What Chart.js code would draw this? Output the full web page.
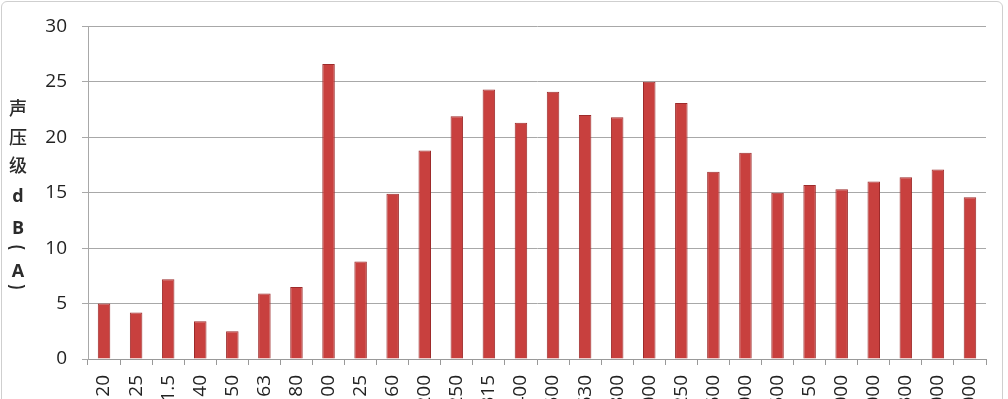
<!DOCTYPE html>
<html>
<head>
<meta charset="utf-8">
<script src="https://cdn.jsdelivr.net/npm/chart.js@4.4.0/dist/chart.umd.min.js"></script>
<style>
  html, body { margin: 0; padding: 0; background: #fff; overflow: hidden; width: 1008px; height: 399px; }
  #frame { position: absolute; left: 1px; top: 1px; width: 1002px; height: 430px; border: 1px solid #cfcfcf; border-radius: 6px; box-sizing: border-box; }
  #c { position: absolute; left: 0; top: 0; }
</style>
</head>
<body>
<div id="frame"></div>
<canvas id="c" width="1008" height="399"></canvas>
<script>
const categories = ["20","25","31.5","40","50","63","80","100","125","160","200","250","315","400","500","630","800","1000","1250","1600","2000","2500","3150","4000","5000","6300","8000","10000"];
const levels = [5.0,4.2,7.2,3.4,2.5,5.9,6.5,26.6,8.8,14.9,18.8,21.9,24.3,21.3,24.1,22.0,21.8,25.0,23.1,16.9,18.6,15.0,15.7,15.3,16.0,16.4,17.1,14.6];
const yTicks = [0,5,10,15,20,25,30];
const yTitleChars = ["声","压","级","d","B","(","A",")"];

const yTitlePlugin = {
  id: 'yTitleVertical',
  afterDraw(chart) {
    const ctx = chart.ctx;
    const ys = [108,137,165,197,229,247,272,287];
    ctx.save();
    ctx.fillStyle = '#2b2b2b';
    ctx.textAlign = 'center';
    ctx.textBaseline = 'middle';
    yTitleChars.forEach((ch, i) => {
      if (ch === '(' || ch === ')') {
        ctx.save();
        ctx.translate(17, ys[i]);
        ctx.rotate(Math.PI / 2);
        ctx.scale(0.75, 1);
        ctx.font = 'bold 19px "Liberation Sans"';
        ctx.fillText(ch, 0, 0);
        ctx.restore();
        return;
      }
      const latin = /[A-Za-z]/.test(ch);
      ctx.font = (latin ? 'bold 18px "Open Sans", "Noto Sans"' : '500 18px "Noto Sans CJK SC"');
      ctx.fillText(ch, 18, ys[i]);
    });
    ctx.restore();
  }
};

new Chart(document.getElementById('c'), {
  type: 'bar',
  data: {
    labels: categories,
    datasets: [{
      data: levels,
      backgroundColor: '#c8403e',
      borderColor: '#9d2b2b',
      borderWidth: 1,
      barPercentage: 0.39,
      categoryPercentage: 1.0
    }]
  },
  options: {
    responsive: false,
    animation: false,
    devicePixelRatio: 1,
    layout: { padding: { top: 24, right: 22, left: 0, bottom: 0 } },
    plugins: { legend: { display: false }, tooltip: { enabled: false } },
    scales: {
      x: {
        offset: true,
        grid: { display: true, offset: true, drawOnChartArea: false, drawTicks: true, tickLength: 6, color: '#999' },
        border: { display: true, color: '#999' },
        ticks: {
          autoSkip: false, maxRotation: 90, minRotation: 90, padding: 10,
          color: '#222', font: { family: '"Open Sans", "Noto Sans"', size: 19 }
        },
        afterFit(scale) { scale.height = 40; }
      },
      y: {
        min: 0, max: 30,
        afterBuildTicks(scale) { scale.ticks = yTicks.map(v => ({ value: v })); },
        grid: { color: '#a8a8a8', tickLength: 6, drawTicks: true },
        border: { display: true, color: '#a8a8a8' },
        ticks: {
          padding: 15, color: '#222',
          font: { family: '"Open Sans", "Noto Sans"', size: 19 }
        },
        afterFit(scale) { scale.width = 88; }
      }
    }
  },
  plugins: [yTitlePlugin]
});
</script>
</body>
</html>
